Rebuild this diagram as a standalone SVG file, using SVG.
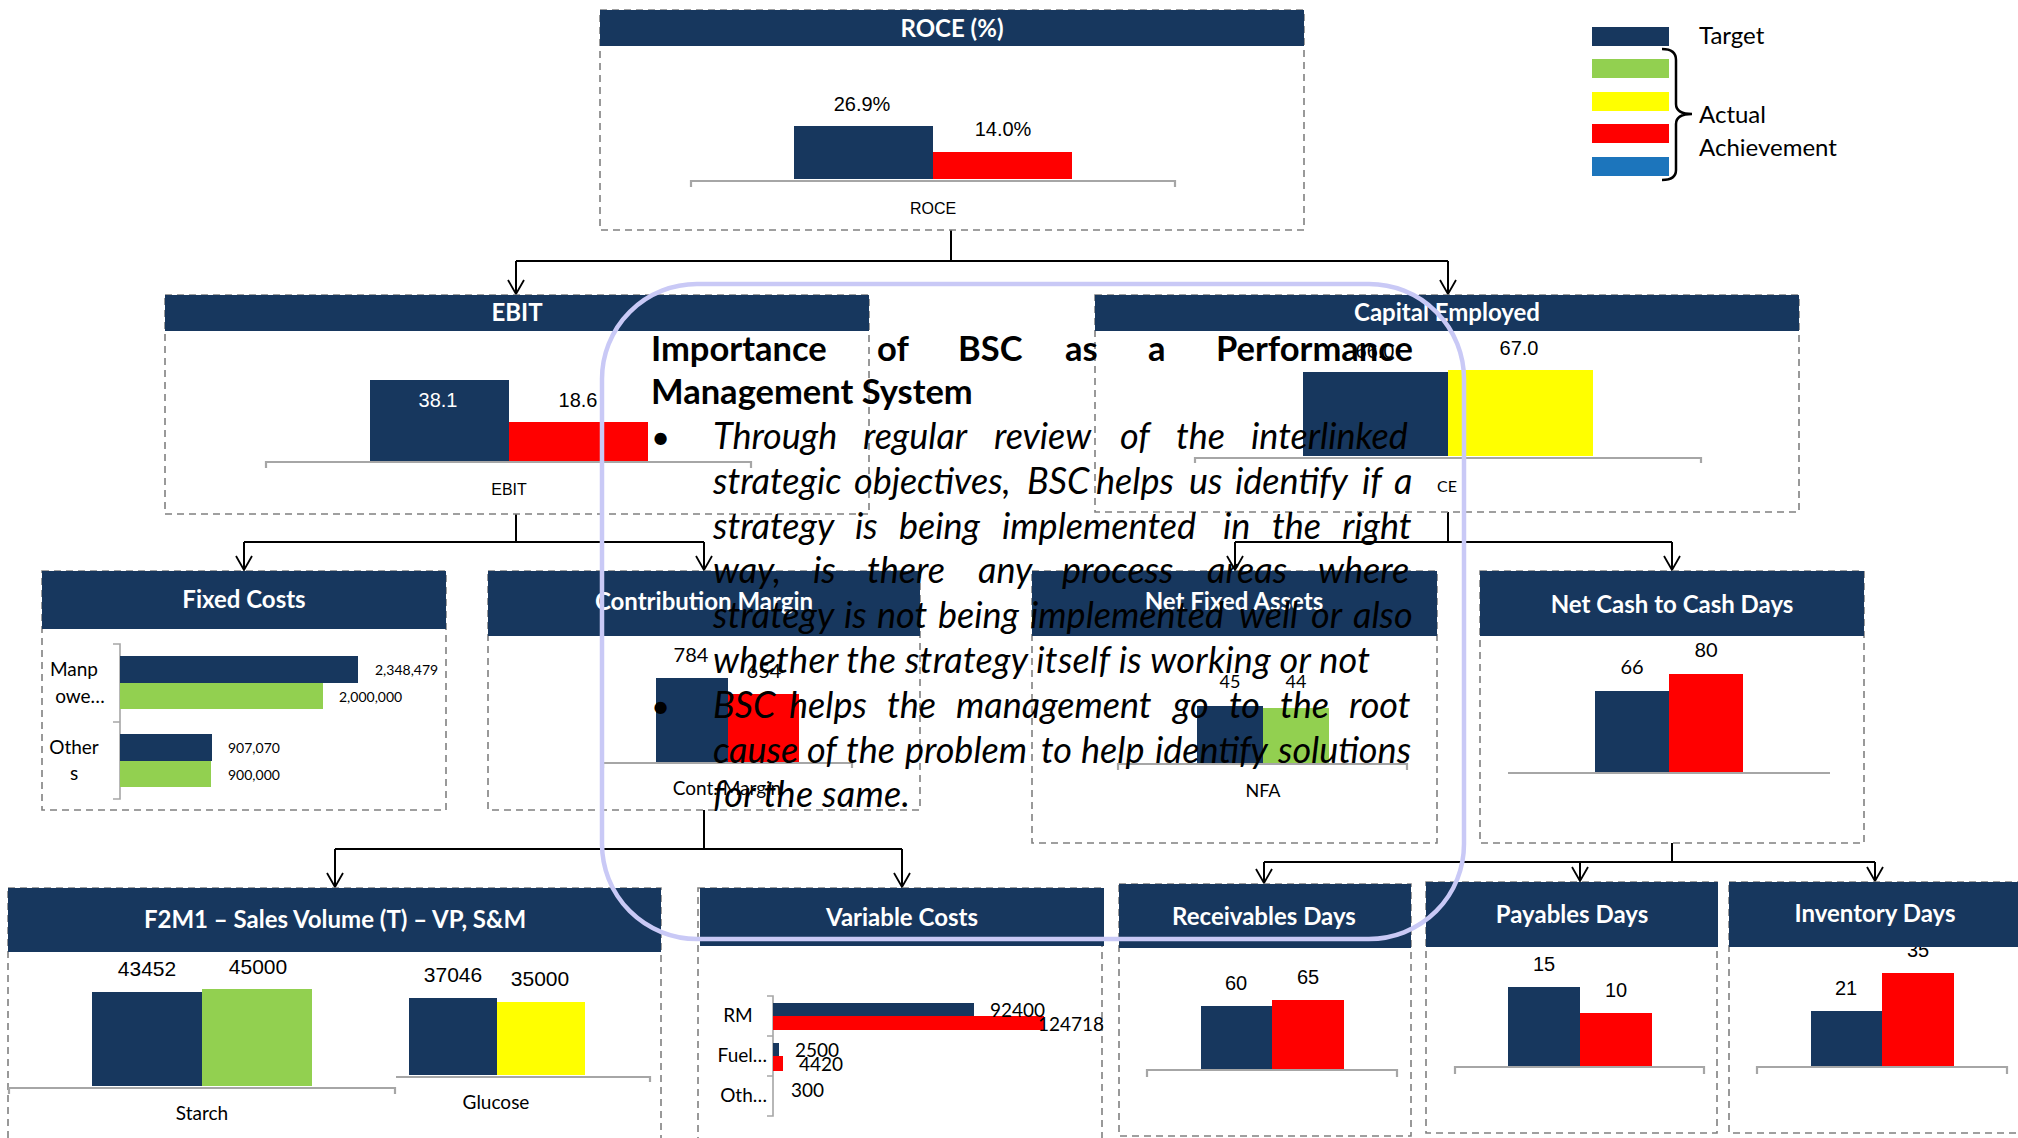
<svg xmlns="http://www.w3.org/2000/svg" width="2018" height="1138" viewBox="0 0 2018 1138">
<defs>
<style>
.bg{fill:#ffffff}
.hdr{fill:#17375E}
.box{fill:none;stroke:#808080;stroke-width:1.6;stroke-dasharray:7 5}
.ht{font-family:Lato,"Open Sans","Noto Sans",sans-serif;font-weight:700;font-size:24px;fill:#ffffff;text-anchor:middle}
.ax{fill:none;stroke:#A6A6A6;stroke-width:2.2}
.nv{fill:#17375E}
.rd{fill:#FF0000}
.gr{fill:#92D050}
.yl{fill:#FFFF00}
.bl{fill:#1C75BC}
.ar{font-family:"Liberation Sans",Arial,sans-serif;font-size:20px;fill:#000;text-anchor:middle}
.arw{font-family:"Liberation Sans",Arial,sans-serif;font-size:20px;fill:#fff;text-anchor:middle}
.arl{font-family:"Liberation Sans",Arial,sans-serif;font-size:16px;fill:#000;text-anchor:middle}
.cl{font-family:Lato,"Open Sans","Noto Sans",sans-serif;font-size:19px;fill:#000}
.cs{font-family:Lato,"Open Sans","Noto Sans",sans-serif;font-size:14px;fill:#000}
.mid{text-anchor:middle}
.end{text-anchor:end}
.lg{font-family:Lato,"Open Sans","Noto Sans",sans-serif;font-size:24px;fill:#000}
.con{fill:none;stroke:#000;stroke-width:2}
.ttl{font-family:Lato,"Open Sans","Noto Sans",sans-serif;font-weight:700;font-size:34.5px;fill:#000}
.bd{font-family:Lato,"Open Sans","Noto Sans",sans-serif;font-style:italic;font-size:36px;fill:#000}
.bu{font-family:Lato,"Open Sans","Noto Sans",sans-serif;font-size:33px;fill:#000}
.ov{fill:none;stroke:#C9C9F6;stroke-width:4.5}
</style>
<marker id="ah" viewBox="0 0 16 18" refX="15" refY="9" markerWidth="16" markerHeight="18" markerUnits="userSpaceOnUse" orient="auto">
<path d="M1,1 L15,9 L1,17" fill="none" stroke="#000" stroke-width="1.8"/>
</marker>
</defs>
<rect class="bg" x="0" y="0" width="2018" height="1138"/>

<g id="connectors">
<path class="con" d="M951,230 V261 M516,261 H1448"/>
<path class="con" d="M516,261 V294" marker-end="url(#ah)"/>
<path class="con" d="M1448,261 V294" marker-end="url(#ah)"/>
<path class="con" d="M516,514 V542 M244,542 H704"/>
<path class="con" d="M244,542 V570" marker-end="url(#ah)"/>
<path class="con" d="M704,542 V570" marker-end="url(#ah)"/>
<path class="con" d="M1448,512 V542 M1235,542 H1672"/>
<path class="con" d="M1235,542 V570" marker-end="url(#ah)"/>
<path class="con" d="M1672,542 V570" marker-end="url(#ah)"/>
<path class="con" d="M704,810 V849 M335,849 H902"/>
<path class="con" d="M335,849 V887" marker-end="url(#ah)"/>
<path class="con" d="M902,849 V887" marker-end="url(#ah)"/>
<path class="con" d="M1672,843 V862 M1264,862 H1875"/>
<path class="con" d="M1264,862 V883" marker-end="url(#ah)"/>
<path class="con" d="M1580,862 V881" marker-end="url(#ah)"/>
<path class="con" d="M1875,862 V881" marker-end="url(#ah)"/>
</g>

<g id="roce">
<rect class="box" x="600" y="10" width="704" height="220"/>
<rect class="hdr" x="600" y="10" width="704" height="36"/>
<text class="ht" x="952" y="37">ROCE (%)</text>
<rect class="nv" x="794" y="126" width="139" height="53"/>
<rect class="rd" x="933" y="152" width="139" height="27"/>
<path class="ax" d="M691,187 V181 H1175 V187"/>
<text class="ar" x="862" y="111">26.9%</text>
<text class="ar" x="1003" y="136">14.0%</text>
<text class="arl" x="933" y="214">ROCE</text>
</g>

<g id="ebit">
<rect class="box" x="165" y="295" width="704" height="219"/>
<rect class="hdr" x="165" y="295" width="704" height="36"/>
<text class="ht" x="517" y="321">EBIT</text>
<rect class="nv" x="370" y="380" width="139" height="81"/>
<rect class="rd" x="509" y="422" width="139" height="39"/>
<path class="ax" d="M266,468 V462 H751 V468"/>
<text class="arw" x="438" y="407">38.1</text>
<text class="ar" x="578" y="407">18.6</text>
<text class="arl" x="509" y="495">EBIT</text>
</g>

<g id="capital-employed">
<rect class="box" x="1095" y="295" width="704" height="217"/>
<rect class="hdr" x="1095" y="295" width="704" height="36"/>
<text class="ht" x="1447" y="321">Capital Employed</text>
<rect class="nv" x="1303" y="372" width="145" height="84"/>
<rect class="yl" x="1448" y="370" width="145" height="86"/>
<path class="ax" d="M1195,463 V458 H1701 V463"/>
<text class="ar" x="1375" y="358">66.0</text>
<text class="ar" x="1519" y="355">67.0</text>
<text class="cl mid" x="1447" y="492" style="font-size:16px">CE</text>
</g>

<g id="fixed-costs">
<rect class="box" x="42" y="571" width="404" height="239"/>
<rect class="hdr" x="42" y="571" width="404" height="58"/>
<text class="ht" x="244" y="608">Fixed Costs</text>
<path class="ax" d="M113,644 H120 V799 H113 M113,722 H120" style="stroke-width:1.6"/>
<rect class="nv" x="120" y="656" width="238" height="27"/>
<rect class="gr" x="120" y="683" width="203" height="26"/>
<rect class="nv" x="120" y="734" width="92" height="27"/>
<rect class="gr" x="120" y="761" width="91" height="26"/>
<text class="cs" x="375" y="675">2,348,479</text>
<text class="cs" x="339" y="702">2,000,000</text>
<text class="cs" x="228" y="753">907,070</text>
<text class="cs" x="228" y="780">900,000</text>
<text class="cl mid" x="74" y="676">Manp</text>
<text class="cl mid" x="80" y="703">owe…</text>
<text class="cl mid" x="74" y="754">Other</text>
<text class="cl mid" x="74" y="780">s</text>
</g>

<g id="contribution-margin">
<rect class="box" x="488" y="571" width="432" height="239"/>
<rect class="hdr" x="488" y="571" width="432" height="65"/>
<text class="ht" x="704" y="610">Contribution Margin</text>
<rect class="nv" x="656" y="678" width="72" height="84"/>
<rect class="rd" x="728" y="694" width="71" height="68"/>
<path class="ax" d="M603,768 V763 H852 V768"/>
<text class="cl mid" x="691" y="662" style="font-size:20px">784</text>
<text class="cl mid" x="764" y="678" style="font-size:20px">654</text>
<text class="cl mid" x="727" y="795">Cont. Margin</text>
</g>

<g id="net-fixed-assets">
<rect class="box" x="1032" y="571" width="405" height="272"/>
<rect class="hdr" x="1032" y="571" width="405" height="65"/>
<text class="ht" x="1234" y="610">Net Fixed Assets</text>
<rect class="nv" x="1197" y="706" width="66" height="57"/>
<rect class="gr" x="1263" y="708" width="66" height="55"/>
<path class="ax" d="M1118,770 V764 H1407 V770"/>
<text class="cl mid" x="1230" y="688" style="font-size:18px">45</text>
<text class="cl mid" x="1296" y="688" style="font-size:18px">44</text>
<text class="cl mid" x="1263" y="797" style="font-size:18px">NFA</text>
</g>

<g id="net-cash-to-cash-days">
<rect class="box" x="1480" y="571" width="384" height="272"/>
<rect class="hdr" x="1480" y="571" width="384" height="65"/>
<text class="ht" x="1672" y="613">Net Cash to Cash Days</text>
<rect class="nv" x="1595" y="691" width="74" height="82"/>
<rect class="rd" x="1669" y="674" width="74" height="99"/>
<path class="ax" d="M1508,773 H1830"/>
<text class="cl mid" x="1632" y="674" style="font-size:20px">66</text>
<text class="cl mid" x="1706" y="657" style="font-size:20px">80</text>
</g>

<g id="sales-volume">
<rect class="box" x="8" y="888" width="653" height="270"/>
<rect class="hdr" x="8" y="888" width="653" height="64"/>
<text class="ht" x="335" y="928">F2M1 – Sales Volume (T) – VP, S&amp;M</text>
<rect class="nv" x="92" y="992" width="110" height="94"/>
<rect class="gr" x="202" y="989" width="110" height="97"/>
<path class="ax" d="M9,1094 V1088 H395 V1094"/>
<rect class="nv" x="409" y="998" width="88" height="77"/>
<rect class="yl" x="497" y="1002" width="88" height="73"/>
<path class="ax" d="M396,1077 H650 V1082"/>
<text class="ar" x="147" y="976" style="font-size:21px">43452</text>
<text class="ar" x="258" y="974" style="font-size:21px">45000</text>
<text class="ar" x="453" y="982" style="font-size:21px">37046</text>
<text class="ar" x="540" y="986" style="font-size:21px">35000</text>
<text class="cl mid" x="202" y="1120">Starch</text>
<text class="cl mid" x="496" y="1109">Glucose</text>
</g>

<g id="variable-costs">
<rect class="box" x="698" y="888" width="404" height="270"/>
<rect class="hdr" x="700" y="888" width="404" height="58"/>
<text class="ht" x="902" y="926">Variable Costs</text>
<path class="ax" d="M767,996 H773 V1116 H767 M767,1036 H773 M767,1076 H773" style="stroke-width:1.6"/>
<rect class="nv" x="773" y="1003" width="201" height="13"/>
<rect class="rd" x="773" y="1016" width="271" height="14"/>
<rect class="nv" x="773" y="1043" width="6" height="13"/>
<rect class="rd" x="773" y="1056" width="10" height="15"/>
<text class="cl" x="990" y="1017">92400</text>
<text class="cl" x="1038" y="1031">124718</text>
<text class="cl" x="795" y="1057">2500</text>
<text class="cl" x="799" y="1071">4420</text>
<text class="cl" x="791" y="1097">300</text>
<text class="cl mid" x="738" y="1022">RM</text>
<text class="cl end" x="767" y="1062">Fuel…</text>
<text class="cl end" x="767" y="1102">Oth…</text>
</g>

<g id="receivables-days">
<rect class="box" x="1119" y="884" width="292" height="252"/>
<rect class="hdr" x="1119" y="884" width="292" height="64"/>
<text class="ht" x="1264" y="925">Receivables Days</text>
<rect class="nv" x="1201" y="1006" width="71" height="63"/>
<rect class="rd" x="1272" y="1000" width="72" height="69"/>
<path class="ax" d="M1147,1077 V1070 H1397 V1077"/>
<text class="ar" x="1236" y="990">60</text>
<text class="ar" x="1308" y="984">65</text>
</g>

<g id="payables-days">
<rect class="box" x="1426" y="882" width="291" height="251"/>
<rect class="hdr" x="1426" y="882" width="292" height="65"/>
<text class="ht" x="1572" y="923">Payables Days</text>
<rect class="nv" x="1508" y="987" width="72" height="80"/>
<rect class="rd" x="1580" y="1013" width="72" height="54"/>
<path class="ax" d="M1455,1074 V1067 H1704 V1074"/>
<text class="ar" x="1544" y="971">15</text>
<text class="ar" x="1616" y="997">10</text>
</g>

<g id="inventory-days">
<rect class="box" x="1729" y="882" width="300" height="251"/>
<text class="ar" x="1918" y="957">35</text>
<rect class="hdr" x="1729" y="882" width="300" height="65"/>
<text class="ht" x="1875" y="922">Inventory Days</text>
<rect class="nv" x="1811" y="1011" width="71" height="56"/>
<rect class="rd" x="1882" y="973" width="72" height="94"/>
<path class="ax" d="M1757,1074 V1067 H2007 V1074"/>
<text class="ar" x="1846" y="995">21</text>
</g>

<g id="legend">
<rect class="nv" x="1592" y="27" width="77" height="19"/>
<rect class="gr" x="1592" y="59" width="77" height="19"/>
<rect class="yl" x="1592" y="92" width="77" height="19"/>
<rect class="rd" x="1592" y="124" width="77" height="19"/>
<rect class="bl" x="1592" y="157" width="77" height="19"/>
<path d="M1662,49 Q1676,49 1676,60 V104 Q1676,114 1692,114 Q1676,114 1676,124 V170 Q1676,180 1662,180" fill="none" stroke="#000" stroke-width="2.5"/>
<text class="lg" x="1699" y="44">Target</text>
<text class="lg" x="1699" y="123">Actual</text>
<text class="lg" x="1699" y="156">Achievement</text>
</g>

<g id="bsc-note">
<rect class="ov" x="602" y="284" width="862" height="655" rx="95" ry="95"/>
<text class="ttl" y="361"><tspan x="651">Importance</tspan><tspan x="877">of</tspan><tspan x="958">BSC</tspan><tspan x="1065">as</tspan><tspan x="1148">a</tspan><tspan x="1216">Performance</tspan></text>
<text class="ttl" x="651" y="404">Management System</text>
<text class="bu" x="651" y="449">•</text>
<text class="bd" y="449"><tspan x="713">Through</tspan><tspan x="863">regular</tspan><tspan x="994">review</tspan><tspan x="1120">of</tspan><tspan x="1176">the</tspan><tspan x="1251">interlinked</tspan></text>
<text class="bd" y="494"><tspan x="713">strategic</tspan><tspan x="854">objectives,</tspan><tspan x="1027">BSC</tspan><tspan x="1096">helps</tspan><tspan x="1189">us</tspan><tspan x="1235">identify</tspan><tspan x="1362">if</tspan><tspan x="1394">a</tspan></text>
<text class="bd" y="539"><tspan x="713">strategy</tspan><tspan x="855">is</tspan><tspan x="899">being</tspan><tspan x="1002">implemented</tspan><tspan x="1223">in</tspan><tspan x="1272">the</tspan><tspan x="1342">right</tspan></text>
<text class="bd" y="583"><tspan x="713">way,</tspan><tspan x="813">is</tspan><tspan x="867">there</tspan><tspan x="978">any</tspan><tspan x="1062">process</tspan><tspan x="1207">areas</tspan><tspan x="1318">where</tspan></text>
<text class="bd" y="628"><tspan x="713">strategy</tspan><tspan x="844">is</tspan><tspan x="877">not</tspan><tspan x="938">being</tspan><tspan x="1030">implemented</tspan><tspan x="1239">well</tspan><tspan x="1311">or</tspan><tspan x="1353">also</tspan></text>
<text class="bd" x="713" y="673" textLength="657" lengthAdjust="spacing">whether the strategy itself is working or not</text>
<text class="bu" x="651" y="718">•</text>
<text class="bd" y="718"><tspan x="713">BSC</tspan><tspan x="789">helps</tspan><tspan x="887">the</tspan><tspan x="956">management</tspan><tspan x="1173">go</tspan><tspan x="1229">to</tspan><tspan x="1280">the</tspan><tspan x="1349">root</tspan></text>
<text class="bd" y="763"><tspan x="713">cause</tspan><tspan x="807">of</tspan><tspan x="846">the</tspan><tspan x="905">problem</tspan><tspan x="1041">to</tspan><tspan x="1081">help</tspan><tspan x="1155">identify</tspan><tspan x="1278">solutions</tspan></text>
<text class="bd" x="713" y="807" textLength="197" lengthAdjust="spacing">for the same.</text>
</g>
</svg>
